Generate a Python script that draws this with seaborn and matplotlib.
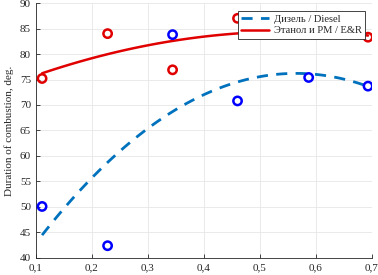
import numpy as np
import pandas as pd
import matplotlib
matplotlib.use("Agg")
import matplotlib.pyplot as plt
import seaborn as sns
from matplotlib.ticker import FuncFormatter

# Measured points
diesel_x = [0.111, 0.228, 0.344, 0.460, 0.587, 0.693]
diesel_y = [50.1, 42.4, 83.8, 70.8, 75.4, 73.7]
ethanol_x = [0.111, 0.228, 0.344, 0.460, 0.693]
ethanol_y = [75.2, 84.0, 76.9, 87.0, 83.3]

diesel_label = "Дизель / Diesel"
ethanol_label = "Этанол и РМ / E&R"

sns.set_style("ticks")
plt.rcParams['font.family'] = ['Liberation Serif', 'DejaVu Serif']

fig = plt.figure(figsize=(3.78, 2.75), dpi=100)
ax = fig.add_axes([0.095, 0.062, 0.889, 0.927])

# Quadratic trend lines
def trend(x, y):
    c = np.polyfit(x, y, 2)
    xs = np.linspace(min(x), max(x), 100)
    return pd.DataFrame({'x': xs, 'y': np.polyval(c, xs)})

d_fit = trend(diesel_x, diesel_y)
e_fit = trend(ethanol_x, ethanol_y)

sns.lineplot(data=d_fit, x='x', y='y', ax=ax, color='#0072BD', lw=2,
             linestyle=(0, (4, 3)), label=diesel_label, zorder=3)
sns.lineplot(data=e_fit, x='x', y='y', ax=ax, color='#E00000', lw=1.8,
             label=ethanol_label, zorder=3)

sns.scatterplot(x=diesel_x, y=diesel_y, ax=ax, marker='o', s=36,
                facecolor='none', edgecolor='#0000FF', linewidth=1.8, zorder=4)
sns.scatterplot(x=ethanol_x, y=ethanol_y, ax=ax, marker='o', s=36,
                facecolor='none', edgecolor='#E00000', linewidth=1.8, zorder=4)

ax.set_xlim(0.1, 0.7)
ax.set_ylim(40, 90)
ax.set_xticks(np.arange(0.1, 0.71, 0.1))
ax.set_yticks(np.arange(40, 91, 5))
ax.xaxis.set_major_formatter(FuncFormatter(lambda v, p: f"{v:.1f}".replace('.', ',')))
ax.tick_params(direction='in', length=3, labelsize=8, colors='#262626', width=0.6)
ax.grid(True, color='#e6e6e6', linewidth=0.6)
for s in ['top', 'right']:
    ax.spines[s].set_visible(False)
for s in ['left', 'bottom']:
    ax.spines[s].set_linewidth(0.6)
    ax.spines[s].set_color('#262626')

ax.set_xlabel('')
ax.set_ylabel('Duration of combustion, deg.', fontsize=8, labelpad=4)

leg = ax.legend(loc='upper right', bbox_to_anchor=(0.98, 0.967), fontsize=7.6,
                frameon=True, fancybox=False, edgecolor='#262626', framealpha=1,
                handlelength=2.6, handletextpad=0.5, borderpad=0.3,
                labelspacing=0.2, borderaxespad=0)
leg.get_frame().set_linewidth(0.6)
leg.set_zorder(10)

fig.savefig('out.png', dpi=100)
